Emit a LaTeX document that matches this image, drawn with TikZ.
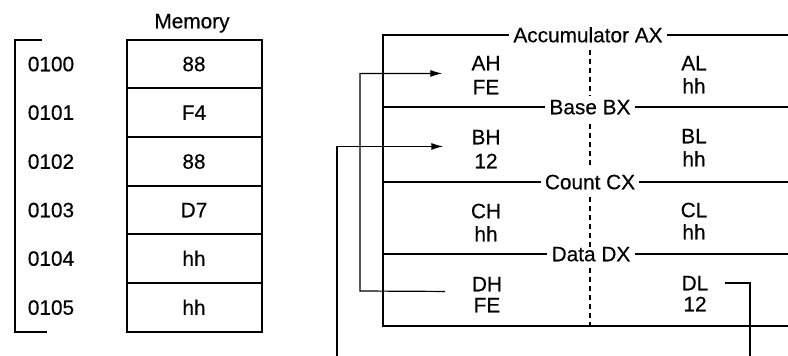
\documentclass[tikz,border=0pt]{standalone}
\usepackage{fontspec}
\setmainfont{Liberation Sans}[FakeBold=0.4]
\usetikzlibrary{arrows.meta,calc}
\begin{document}
\begin{tikzpicture}[x=1pt,y=-1pt,
  txt/.style={inner sep=0pt, text height=14.5pt, text depth=0pt, font=\fontsize{20.8}{24}\selectfont},
  lbl/.style={txt, inner xsep=4pt},
  regline/.style={line width=2.5pt},
  cellline/.style={line width=1.6pt},
  conn/.style={line width=1.2pt},
  arr/.style={-{Latex[length=12pt,width=7pt]}},
  split/.style={line width=1.2pt, dash pattern=on 5pt off 4pt}]
\useasboundingbox (0,0) rectangle (788,356);

% ---- memory ----
\node[txt] (memtitle) at (192,21) {Memory};
\draw[line width=1.6pt] (42,40) -- (15,40) -- (15,332) -- (47,332);
\draw[line width=2.6pt] (127,40) rectangle (262,332);
\foreach \yy in {88,137,186,234,283} \draw[cellline] (127,\yy) -- (262,\yy);
\foreach \n/\yy/\a/\v in {0/64/0100/88,1/112.5/0101/F4,2/161.5/0102/88,3/210/0103/D7,4/258.5/0104/hh,5/307.5/0105/hh}{
  \node[txt] (addr\n) at (51,\yy) {\a};
  \node[txt] (cell\n) at (194,\yy) {\v};
}

% ---- registers ----
\node[lbl] (ax) at (588,35) {Accumulator AX};
\node[lbl] (bx) at (590,107) {Base BX};
\node[lbl] (cx) at (590,182) {Count CX};
\node[lbl] (dx) at (591,254) {Data DX};
\draw[regline] (ax.west) -- (383,35) -- (383,326) -- (788,326);
\draw[regline] (ax.east) -- (788,35);
\draw[regline] (383,107) -- (bx.west);
\draw[regline] (bx.east) -- (788,107);
\draw[regline] (383,182) -- (cx.west);
\draw[regline] (cx.east) -- (788,182);
\draw[regline] (383,254) -- (dx.west);
\draw[regline] (dx.east) -- (788,254);

\draw[split] (590,50) -- (590,96);
\draw[split] (590,124) -- (590,168);
\draw[split] (590,197) -- (590,247);
\draw[split] (590,268) -- (590,326);

\node[txt] (ah) at (486,63) {AH};
\node[txt] (ahv) at (486,87) {FE};
\node[txt] (al) at (694,63) {AL};
\node[txt] (alv) at (694,86) {hh};
\node[txt] (bh) at (486,137) {BH};
\node[txt] (bhv) at (486,161) {12};
\node[txt] (bl) at (694,136) {BL};
\node[txt] (blv) at (694,159) {hh};
\node[txt] (ch) at (486,211) {CH};
\node[txt] (chv) at (486,234) {hh};
\node[txt] (cl) at (694,210) {CL};
\node[txt] (clv) at (694,232) {hh};
\node[txt] (dh) at (487,284) {DH};
\node[txt] (dhv) at (487,305) {FE};
\node[txt] (dl) at (695,283) {DL};
\node[txt] (dlv) at (695,304) {12};

% ---- connectors ----
\coordinate (offR) at (750,356);
\coordinate (offL) at (337,356);
\draw[conn,arr] ($(dh.south west)+(-27,0)$) -- (360,291) |- ($(ah.south west)+(-29,3)$);
\draw[conn] ($(dl.east)+(16,0)$) -| (offR);
\draw[conn,arr] (offL) |- ($(bh.south west)+(-28,2)$);
\end{tikzpicture}
\end{document}
